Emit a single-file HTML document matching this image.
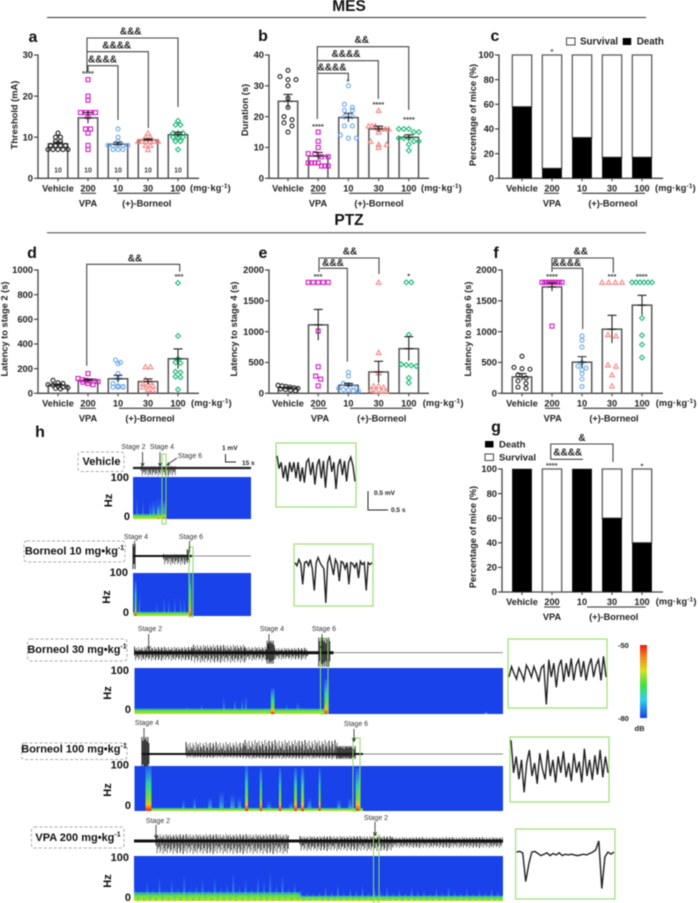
<!DOCTYPE html>
<html lang="en">
<head>
<meta charset="utf-8">
<title>MES and PTZ seizure figure</title>
<style>
html,body{margin:0;padding:0;background:#fff;width:698px;height:903px;overflow:hidden}
svg{display:block;filter:blur(0.4px)}
text{font-family:"Liberation Sans",Arial,sans-serif;fill:#222}
.b{font-weight:bold}
.ann{font-weight:bold;font-size:10px;text-anchor:middle;dominant-baseline:central}
.star{font-weight:bold;font-size:7.5px;text-anchor:middle;fill:#444}
.letter{font-weight:bold;font-size:16px;text-anchor:middle;fill:#111}
.brk{fill:none;stroke:#444;stroke-width:1.1}
.ul{stroke:#555;stroke-width:1.3}
.stage{font-size:7px;text-anchor:middle;fill:#333}
.arrow{stroke:#222;stroke-width:.8;fill:none}
.dash{fill:#fff;stroke:#aaa;stroke-width:1;stroke-dasharray:3 2}
.cond{font-weight:bold;font-size:11px;text-anchor:middle;dominant-baseline:central;fill:#111}
.hz{font-weight:bold;font-size:11px;text-anchor:end;dominant-baseline:central;fill:#111}
.hzt{font-weight:bold;font-size:11px;text-anchor:middle;fill:#111}
.scale{font-weight:bold;font-size:6.5px;fill:#222}
</style>
</head>
<body>
<svg id="fig" xmlns="http://www.w3.org/2000/svg" width="698" height="903" viewBox="0 0 698 903">
<defs>
<linearGradient id="hot" x1="0" y1="1" x2="0" y2="0">
<stop offset="0" stop-color="#f02010"/><stop offset=".14" stop-color="#f0c020"/><stop offset=".3" stop-color="#70e030"/><stop offset=".6" stop-color="#30d0a0"/><stop offset="1" stop-color="#40b0f0" stop-opacity=".25"/>
</linearGradient>
<linearGradient id="cool" x1="0" y1="1" x2="0" y2="0">
<stop offset="0" stop-color="#50d090"/><stop offset=".3" stop-color="#40b8d0" stop-opacity=".7"/><stop offset="1" stop-color="#4080f0" stop-opacity=".1"/>
</linearGradient>
<linearGradient id="band" x1="0" y1="1" x2="0" y2="0">
<stop offset="0" stop-color="#c0e020"/><stop offset=".6" stop-color="#60e040"/><stop offset="1" stop-color="#30b8c0" stop-opacity=".6"/>
</linearGradient>
<linearGradient id="cbar" x1="0" y1="0" x2="0" y2="1">
<stop offset="0" stop-color="#f01810"/><stop offset=".15" stop-color="#f08020"/><stop offset=".35" stop-color="#d8e020"/><stop offset=".55" stop-color="#40e040"/><stop offset=".75" stop-color="#30d0f0"/><stop offset="1" stop-color="#1840e8"/>
</linearGradient>
</defs>

<g>
<text x="349" y="11" class="b" font-size="15.5" text-anchor="middle" style="fill:#111">MES</text>
<line x1="47" y1="17.5" x2="646" y2="17.5" stroke="#333" stroke-width="1"/>
<text x="349" y="225" class="b" font-size="15.5" text-anchor="middle" style="fill:#111">PTZ</text>
<line x1="47" y1="232.7" x2="646" y2="232.7" stroke="#444" stroke-width="1"/>
</g>

<g>
<text class="letter" x="33" y="42">a</text>
<text class="letter" x="263" y="41">b</text>
<text class="letter" x="495" y="41">c</text>
<text class="letter" x="32" y="258">d</text>
<text class="letter" x="263" y="258">e</text>
<text class="letter" x="496" y="258">f</text>
<text class="letter" x="496" y="432">g</text>
<text class="letter" x="40" y="437">h</text>
</g>

<g id="charts"></g>

<g>
<path class="brk" d="M87 72V38H178V107"/>
<path class="brk" d="M87 51.7H148.3V128"/>
<path class="brk" d="M88 71.7V65.7H118V120"/>
<text class="ann" x="130.7" y="32">&amp;&amp;&amp;</text>
<text class="ann" x="116.7" y="46">&amp;&amp;&amp;&amp;</text>
<text class="ann" x="102.5" y="60">&amp;&amp;&amp;&amp;</text>
<text class="star" x="88" y="76">****</text>

<path class="brk" d="M317.3 119V46.7H408.7V110"/>
<path class="brk" d="M317.3 60.7H378.3V99"/>
<path class="brk" d="M318 73.3H348.3V80"/>
<text class="ann" x="361.7" y="40.7">&amp;&amp;</text>
<text class="ann" x="346" y="54.7">&amp;&amp;&amp;&amp;</text>
<text class="ann" x="332" y="68">&amp;&amp;&amp;&amp;</text>
<text class="star" x="318" y="129">****</text>
<text class="star" x="348" y="84">*</text>
<text class="star" x="378.3" y="107">****</text>
<text class="star" x="409" y="122">****</text>
<text class="star" x="552" y="54">*</text>

<path class="brk" d="M86.7 365.7V264.3H179.7V271.7"/>
<text class="ann" x="135" y="259">&amp;&amp;</text>
<text class="star" x="179" y="279">***</text>

<path class="brk" d="M319 272V258H379V274"/>
<path class="brk" d="M320 268.3H347.3V361.7"/>
<text class="ann" x="350" y="252">&amp;&amp;</text>
<text class="ann" x="333" y="263.5">&amp;&amp;&amp;</text>
<text class="star" x="318" y="279">***</text>
<text class="star" x="408.7" y="278.5">*</text>

<path class="brk" d="M552 272V258H613.3V272.7"/>
<path class="brk" d="M552.7 268.3H582.7V329"/>
<text class="ann" x="580.7" y="252">&amp;&amp;</text>
<text class="ann" x="566.7" y="263.7">&amp;&amp;&amp;&amp;</text>
<text class="star" x="552" y="279">****</text>
<text class="star" x="612" y="279">***</text>
<text class="star" x="641.7" y="279">****</text>

<path class="brk" d="M550.7 459.3V444H613V462"/>
<path class="brk" d="M550.7 459.3H583"/>
<text class="ann" x="582" y="438.5">&amp;</text>
<text class="ann" x="567.7" y="453">&amp;&amp;&amp;&amp;</text>
<text class="star" x="551.7" y="468">****</text>
<text class="star" x="642" y="468.5">*</text>
</g>

<g>
<rect x="566.5" y="38" width="8.5" height="7" fill="#fff" stroke="#444" stroke-width="1"/>
<text x="580" y="44.7" class="b" font-size="9.8">Survival</text>
<rect x="622.7" y="38" width="8.5" height="7" fill="#000"/>
<text x="636.7" y="44.7" class="b" font-size="9.8">Death</text>
</g>
<g>
<rect x="485" y="441" width="8.5" height="6.5" fill="#000"/>
<text x="499" y="447.5" class="b" font-size="9.5">Death</text>
<rect x="485" y="454" width="8.5" height="6.5" fill="#fff" stroke="#444" stroke-width="1"/>
<text x="499" y="460.5" class="b" font-size="9.5">Survival</text>
</g>

<g>
<rect class="dash" x="78" y="452" width="46" height="19.5" rx="3"/>
<text class="cond" x="101.5" y="462">Vehicle</text>
<rect class="dash" x="24" y="541" width="101" height="21" rx="3"/>
<text class="cond" x="74.5" y="551.5">Borneol 10 mg•kg<tspan font-size="7" dy="-3.5">-1</tspan></text>
<rect class="dash" x="27.6" y="639" width="99.4" height="22" rx="3"/>
<text class="cond" x="77" y="650">Borneol 30 mg•kg<tspan font-size="7" dy="-3.5">-1</tspan></text>
<rect class="dash" x="21.5" y="743" width="105.5" height="16.5" rx="3"/>
<text class="cond" x="74" y="749.5">Borneol 100 mg•kg<tspan font-size="7" dy="-3.5">-1</tspan></text>
<rect class="dash" x="31.5" y="827" width="92.5" height="21" rx="3"/>
<text class="cond" x="78" y="838">VPA 200 mg•kg<tspan font-size="7" dy="-3.5">-1</tspan></text>
</g>

<g id="eeg"></g>

<g>
<text class="stage" x="133.5" y="449">Stage 2</text>
<text class="stage" x="162" y="449">Stage 4</text>
<text class="stage" x="190" y="458">Stage 6</text>
<path class="arrow" d="M142.6 452V465M141 463L142.6 466L144.2 463M160 452V465M158.4 463L160 466L161.6 463M177 458L167.5 464.5M170 464.8L167 465L168.6 462.4"/>
<path fill="none" stroke="#222" stroke-width="1" d="M225.5 454V462H236"/>
<text class="scale" font-size="7" x="222" y="450">1 mV</text>
<text class="scale" x="242" y="465">15 s</text>
<path fill="none" stroke="#222" stroke-width="1" d="M368 491V510H388"/>
<text class="scale" x="374" y="495">0.5 mV</text>
<text class="scale" x="391" y="512">0.5 s</text>

<text class="stage" x="136" y="539">Stage 4</text>
<text class="stage" x="191" y="539">Stage 6</text>
<path class="arrow" d="M134.5 541V552M189.5 541V552"/>

<text class="stage" x="150" y="631">Stage 2</text>
<text class="stage" x="272" y="631">Stage 4</text>
<text class="stage" x="324" y="631">Stage 6</text>
<path class="arrow" d="M148.7 634V649M147 646L148.7 649.5L150.4 646M269 634V649M267.3 646L269 649.5L270.7 646M322 634V649M320.3 646L322 649.5L323.7 646"/>

<text class="stage" x="147" y="725">Stage 4</text>
<text class="stage" x="356" y="726">Stage 6</text>
<path class="arrow" d="M144 728V740M354 729V741M352.3 738L354 741.5L355.7 738"/>

<text class="stage" x="158" y="823">Stage 2</text>
<text class="stage" x="376" y="820">Stage 2</text>
<path class="arrow" d="M156 825V838M154.3 835L156 838.5L157.7 835M375 822V835M373.3 832L375 835.5L376.7 832"/>

<text class="hz" x="129" y="478">100</text>
<text class="hz" x="130" y="517">0</text>
<text class="hzt" transform="translate(112,500.5) rotate(-90)">Hz</text>
<text class="hz" x="128" y="573">100</text>
<text class="hz" x="129" y="613">0</text>
<text class="hzt" transform="translate(110,597) rotate(-90)">Hz</text>
<text class="hz" x="129" y="671">100</text>
<text class="hz" x="131" y="710">0</text>
<text class="hzt" transform="translate(111,693) rotate(-90)">Hz</text>
<text class="hz" x="129" y="765.5">100</text>
<text class="hz" x="131" y="806">0</text>
<text class="hzt" transform="translate(111,790) rotate(-90)">Hz</text>
<text class="hz" x="129" y="858">100</text>
<text class="hz" x="131" y="898">0</text>
<text class="hzt" transform="translate(111,881) rotate(-90)">Hz</text>

<rect x="640" y="645" width="7" height="73" fill="url(#cbar)"/>
<text class="b" font-size="7.5" x="618" y="648">-50</text>
<text class="b" font-size="7.5" x="618" y="721">-80</text>
<text class="b" font-size="7.5" x="634.5" y="731">dB</text>
</g>

<script>
// ---- chart data ----
const categories = ['Vehicle','200','10','30','100'];
const panelALabel = 'Threshold (mA)';
const aTicks = [0,10,20,30];
const aMeans = [8.4,14.7,8.3,9.3,10.6];
const aSems = [0.4,1.3,0.5,0.3,0.6];
const aVehicle = [11,10,10,9,9,8,8,8,8,7,7,7,7,7];
const aVpa = [24,20,19,16,16,16,16,15,12,12,11,8,7];
const aB10 = [12,10,9,8,8,8,8,8,7,7,7];
const aB30 = [11,10,10,9,9,9,9,9,9,8,8,7];
const aB100 = [14,13,13,11,11,11,10,10,10,9,9,7];

const bTicks = [0,10,20,30,40];
const bMeans = [25,7.2,19.7,16,13.3];
const bSems = [2.2,1.2,1.4,0.9,0.8];
const bVehicle = [35,33,32,32,30,26,23,20,19,18,17,15];
const bVpa = [15,12,10,8,8,7,7,5,5,5,5,4,4,4];
const bB10 = [30,24,23,22,22,20,20,17,17,14,13,13];
const bB30 = [22,17,17,17,16,16,16,16,15,12,11,11,10];
const bB100 = [16,16,16,15,15,13,13,13,12,12,11,9];

const pctTicks = [0,20,40,60,80,100];
const cDeath = [58,8,33,17,17];
const gDeath = [100,0,100,60,40];

const dTicks = [0,200,400,600,800,1000];
const dMeans = [65,105,118,95,280];
const dSems = [10,10,28,22,80];
const dVehicle = [105,85,80,70,65,60,50,45,40,35];
const dVpa = [160,120,110,105,100,100,95,90,80,70];
const dB10 = [270,250,240,160,120,80,60,55,50,50,50];
const dB30 = [215,215,110,90,80,70,60,50,30,25];
const dB100 = [895,465,280,250,245,175,170,135,130,30];

const eTicks = [0,500,1000,1500,2000];
const eMeans = [90,1110,130,346,724];
const eSems = [12,250,30,173,195];
const eVehicle = [130,120,110,100,90,80,70,60,50,40];
const eVpa = [1800,1800,1800,1800,1800,1010,430,280,230,120];
const eB10 = [340,280,160,140,110,80,60,50,40,40];
const eB30 = [1800,660,330,120,120,100,60,40,30,30];
const eB100 = [1800,1800,950,470,460,450,440,250,170];

const fTicks = [0,500,1000,1500,2000];
const fMeans = [265,1725,505,1040,1430];
const fSems = [55,65,90,225,160];
const fVehicle = [600,420,400,390,300,250,200,160,100,80];
const fVpa = [1800,1800,1800,1800,1800,1800,1800,1800,1800,1090];
const fB10 = [930,860,750,500,440,410,380,320,230,110];
const fB30 = [1800,1800,1800,1800,950,930,460,440,300,120];
const fB100 = [1800,1800,1800,1800,1800,1800,1220,940,790,580];

// ---- EEG envelope readings: [startFraction, endFraction, upAmplitude, downAmplitude] ----
const spikePattern = [1,.55,.8,.35,.95,.6,.45,.9,.7,.3];
const vehicleSpikes = [[.07,.36,2,8]];
const vehicleCore = [[0,1,2.2,'#222']];
const b10Spikes = [[0,.025,12,13],[.26,.46,2,9],[.46,.48,7,7]];
const b10Core = [[0,.5,2,'#111'],[.5,1,.9,'#888']];
const b30Spikes = [[0,.16,6,8],[.16,.3,8,10],[.3,.36,6,8],[.36,.38,12,11],[.38,.47,5,7],[.5,.53,15,14]];
const b30Core = [[0,.54,3,'#111'],[.54,1,.9,'#777']];
const b100Spikes = [[.02,.04,17,17],[.14,.3,12,4],[.3,.55,14,5],[.55,.6,8,5]];
const b100Core = [[.02,.62,2,'#111'],[.62,1,.9,'#888']];
const vpaSpikes = [[.06,.42,7,13],[.45,.7,5,10],[.7,1,4,7]];
const vpaCore = [[0,1,3,'#111']];

// ---- spectrogram readings: [xFraction, heightFraction, widthFraction] ----
const vehicleBurstsHot = [[.21,.32,.01],[.255,.42,.012]];
const vehicleBurstsCool = [[.03,.5,.008],[.08,.45,.008],[.14,.4,.012],[.16,.42,.03],[.2,.5,.012],[.22,.48,.02],[.27,.5,.01]];
const vehicleBand = [[0,.28,.12]];
const b10BurstsHot = [[.015,.8,.015],[.48,1,.015]];
const b10BurstsCool = [[.05,.5,.01],[.2,.3,.006],[.26,.42,.006],[.3,.38,.006],[.35,.42,.006],[.4,.42,.006],[.43,.4,.006]];
const b10Band = [[0,.5,.1]];
const b30BurstsHot = [[.37,.55,.01],[.515,.75,.012]];
const b30BurstsCool = [[.03,.12,.01],[.14,.16,.005],[.18,.2,.005],[.24,.35,.005],[.27,.3,.005],[.29,.32,.005],[.3,.4,.005],[.44,.25,.006],[.41,.2,.006],[.95,.05,.008]];
const b30Band = [[0,.52,.12]];
const b100BurstsHot = [[.03,1,.016],[.3,1,.008],[.34,.95,.006],[.392,.95,.006],[.433,.95,.008],[.452,.95,.008],[.5,.95,.005],[.6,.95,.012]];
const b100BurstsCool = [[.13,.25,.006],[.16,.3,.006],[.2,.3,.01],[.23,.42,.012],[.26,.35,.012],[.28,.3,.01],[.36,.22,.01],[.42,.2,.01],[.47,.28,.01],[.55,.25,.01],[.58,.28,.01]];
const b100Band = [[.03,.62,.07]];
const vpaHeights = [.3,.22,.4,.28,.5,.25,.42,.3,.55,.28,.35,.45,.26,.48,.3,.38,.6,.32,.45,.28,.5,.42,.6,.35,.55,.3,.4,.25,.2,.18,.2,.3,.22,.35,.2,.28,.24,.32,.2,.28,.22,.3,.2,.26,.18,.3,.22,.24,.18,.28,.2,.3,.22,.2,.26,.18,.24,.2,.28,.22];
const vpaBand = [[0,.45,.2],[.45,1,.12]];

// ---- inset trace readings: vertical fraction of the inset box ----
const insetVehicle = [.2,.4,.3,.55,.35,.6,.3,.45,.3,.55,.3,.6,.38,.62,.3,.25,.5,.3,.65,.35,.25,.55,.28,.7,.3,.2,.45,.3,.72,.35,.25,.5,.28,.6,.3,.22,.35,.6];
const insetB10 = [.3,.35,.25,.32,.65,.3,.28,.35,.25,.4,.75,.3,.22,.3,.35,.4,.95,.3,.2,.35,.5,.25,.32,.6,.28,.3,.4,.3,.65,.3,.32,.38,.3,.55,.28,.33,.3,.75,.3,.33,.3];
const insetB30 = [.55,.4,.5,.58,.42,.5,.6,.38,.45,.55,.4,.5,.62,.42,.38,.95,.3,.55,.35,.7,.4,.3,.62,.35,.55,.28,.6,.38,.3,.55,.32,.6,.4,.28,.55,.38,.3,.6,.25,.55];
const insetB100 = [.05,.55,.3,.65,.35,.85,.4,.2,.6,.4,.72,.25,.5,.65,.2,.6,.35,.7,.3,.55,.22,.62,.4,.68,.25,.55,.38,.7,.18,.6,.35,.66,.28,.58,.2,.62,.3,.55];
const insetVpa = [.33,.32,.34,.75,.5,.33,.32,.35,.38,.36,.34,.38,.35,.37,.34,.38,.36,.37,.36,.37,.38,.37,.36,.37,.35,.33,.3,.17,.85,.4,.33,.36,.33];

// ---- helpers ----
const NS = 'http://www.w3.org/2000/svg';
const charts = document.getElementById('charts');
const eeg = document.getElementById('eeg');
function make(tag, parent, attrs, text){
  const el = document.createElementNS(NS, tag);
  for(const k in attrs){ el.setAttribute(k, attrs[k]); }
  if(text !== undefined){ el.textContent = text; }
  parent.appendChild(el);
  return el;
}
const seriesColor = ['#222','#d41cc4','#6aa8f0','#f48888','#1cb878'];

function drawMarker(parent, kind, cx, cy){
  const c = seriesColor[kind];
  const st = {fill:'none', stroke:c, 'stroke-width':1.1};
  let el;
  if(kind === 0 || kind === 2){
    el = make('circle', parent, Object.assign({cx:cx, cy:cy, r:2}, st));
  } else if(kind === 1){
    el = make('rect', parent, Object.assign({x:cx-2, y:cy-2, width:4, height:4}, st));
  } else if(kind === 3){
    el = make('polygon', parent, Object.assign({points:(cx-2.4)+','+(cy+2)+' '+(cx+2.4)+','+(cy+2)+' '+cx+','+(cy-2.3)}, st));
  } else {
    el = make('polygon', parent, Object.assign({points:(cx-2.4)+','+cy+' '+cx+','+(cy-2.4)+' '+(cx+2.4)+','+cy+' '+cx+','+(cy+2.4)}, st));
  }
  
  
}

function drawAxes(g, p, ticks, title){
  const y = v => p.y0 - (v/p.max)*(p.y0-p.yTop);
  const x = i => p.first + i*p.step;
  ticks.forEach(t => {
    const tk = make('line', g, {x1:p.axis-4, x2:p.axis, y1:y(t), y2:y(t), stroke:'#444', 'stroke-width':1.2});
    
    
    const lb = make('text', g, {x:p.axis-5, y:y(t)+3.2, 'text-anchor':'end', 'font-size':9.4, 'font-weight':'bold'}, String(t));
    
    
  });
  const yAxis = make('line', g, {x1:p.axis, x2:p.axis, y1:y(ticks[ticks.length-1])-.6, y2:p.y0+.6, stroke:'#444', 'stroke-width':1.3});
  
  
  const xAxis = make('line', g, {x1:p.axis, x2:p.end, y1:p.y0, y2:p.y0, stroke:'#444', 'stroke-width':1.3});
  
  
  categories.forEach((c,i) => {
    const tk = make('line', g, {x1:x(i), x2:x(i), y1:p.y0, y2:p.y0+3, stroke:'#444', 'stroke-width':1.1});
    
    
    const lb = make('text', g, {x:x(i), y:p.y0+13.2, 'text-anchor':'middle', 'font-size':9.2, 'font-weight':'bold'}, c);
    
    
  });
  const yt = make('text', g, {transform:'translate('+p.titleX+','+p.titleY+') rotate(-90)', 'text-anchor':'middle', 'font-size':9.3, 'font-weight':'bold', 'dominant-baseline':'central'}, title);
  
  
  const unit = make('text', g, {x:p.unitX, y:p.y0+12.5, 'font-size':9.2, 'font-weight':'bold', 'letter-spacing':'.15'});
  
  
  unit.appendChild(document.createTextNode('(mg·kg'));
  make('tspan', unit, {dy:-3, 'font-size':6.5}, '-1');
  make('tspan', unit, {dy:3}, ')');
  const vpa = make('text', g, {x:p.vpaX, y:p.y0+28, 'text-anchor':'middle', 'font-size':9.2, 'font-weight':'bold'}, 'VPA');
  
  
  const bor = make('text', g, {x:p.borX, y:p.y0+28, 'text-anchor':'middle', 'font-size':9.2, 'font-weight':'bold'}, '(+)-Borneol');
  
  
  const u1 = make('line', g, {x1:p.ul[0], x2:p.ul[1], y1:p.y0+15, y2:p.y0+15, class:'ul'});
  
  
  const u2 = make('line', g, {x1:p.ul[2], x2:p.ul[3], y1:p.y0+15, y2:p.y0+15, class:'ul'});
  
  
  return {x:x, y:y};
}

function drawBarPanel(name, p, ticks, title, means, sems, series, spread, showN){
  const g = make('g', charts, {});
  
  
  const s = drawAxes(g, p, ticks, title);
  means.forEach((m,i) => {
    const bar = make('rect', g, {x:s.x(i)-9.7, y:s.y(m), width:19.4, height:p.y0-s.y(m), fill:'#fff', stroke:'#555', 'stroke-width':1.5});
    
    
  });
  series.forEach((vals,i) => {
    const px = vals.map(v => s.y(v));
    const groups = [];
    px.forEach(py => {
      const last = groups[groups.length-1];
      if(last && Math.abs(last[0]-py) < 3.2){ last.push(py); } else { groups.push([py]); }
    });
    groups.forEach(gr => {
      const sp = gr.length > 1 ? Math.min(spread, 20/(gr.length-1)) : 0;
      gr.forEach((py,k) => drawMarker(g, i, s.x(i) + (k-(gr.length-1)/2)*sp, py));
    });
  });
  means.forEach((m,i) => {
    const e = make('path', g, {d:'M'+s.x(i)+' '+s.y(m-sems[i])+'V'+s.y(m+sems[i])+'M'+(s.x(i)-4.5)+' '+s.y(m+sems[i])+'H'+(s.x(i)+4.5)+'M'+(s.x(i)-4.5)+' '+s.y(m)+'H'+(s.x(i)+4.5), stroke:'#222', 'stroke-width':1.1, fill:'none'});
    
    
    if(showN){
      const n = make('text', g, {x:s.x(i), y:p.y0-6, 'text-anchor':'middle', 'font-size':7, 'font-weight':'bold', style:'fill:#444'}, String(series[i].length >= 10 ? 10 : series[i].length));
      
      
    }
  });
}

function drawStackPanel(name, p, ticks, title, death){
  const g = make('g', charts, {});
  
  
  const s = drawAxes(g, p, ticks, title);
  death.forEach((d,i) => {
    const top = make('rect', g, {x:s.x(i)-9.7, y:s.y(100), width:19.4, height:s.y(d)-s.y(100), fill:'#fff', stroke:'#666', 'stroke-width':1.4});
    
    
    const bot = make('rect', g, {x:s.x(i)-9.7, y:s.y(d), width:19.4, height:p.y0-s.y(d), fill:'#000', stroke:'#333', 'stroke-width':.6});
    
    
  });
}

drawBarPanel('threshold-chart', {axis:38,end:199,first:58,step:30,y0:178.3,yTop:55,max:30,titleX:14.5,titleY:115,unitX:190,vpaX:88,borX:146.7,ul:[81,96,117,180]}, aTicks, panelALabel, aMeans, aSems, [aVehicle,aVpa,aB10,aB30,aB100], 5, true);
drawBarPanel('duration-chart', {axis:269,end:429,first:288,step:30.2,y0:178.3,yTop:55,max:40,titleX:245,titleY:110,unitX:421,vpaX:318,borX:379,ul:[311,326,349,411]}, bTicks, 'Duration (s)', bMeans, bSems, [bVehicle,bVpa,bB10,bB30,bB100], 8, false);
drawStackPanel('mes-mortality-chart', {axis:499,end:663,first:522,step:30,y0:178.3,yTop:55,max:100,titleX:473,titleY:115,unitX:655,vpaX:552,borX:613,ul:[544,559,582,645]}, pctTicks, 'Percentage of mice (%)', cDeath);
drawBarPanel('latency-stage-2-chart', {axis:38,end:199,first:58,step:30,y0:393.3,yTop:270,max:1000,titleX:4.5,titleY:329,unitX:191,vpaX:88,borX:150,ul:[80,96,119,181]}, dTicks, 'Latency to stage 2 (s)', dMeans, dSems, [dVehicle,dVpa,dB10,dB30,dB100], 5, false);
drawBarPanel('latency-stage-4-chart', {axis:269,end:429,first:288,step:30.2,y0:393.3,yTop:270,max:2000,titleX:234,titleY:329,unitX:422.7,vpaX:320,borX:381.7,ul:[312.6,327,350,412]}, eTicks, 'Latency to stage 4 (s)', eMeans, eSems, [eVehicle,eVpa,eB10,eB30,eB100], 5, false);
drawBarPanel('latency-stage-6-chart', {axis:502,end:663,first:522,step:30,y0:393.3,yTop:270,max:2000,titleX:468,titleY:329,unitX:655.7,vpaX:552.7,borX:614,ul:[545,560,583,645.7]}, fTicks, 'Latency to stage 6 (s)', fMeans, fSems, [fVehicle,fVpa,fB10,fB30,fB100], 8, false);
drawStackPanel('ptz-mortality-chart', {axis:502,end:663,first:522,step:30,y0:592,yTop:469,max:100,titleX:473,titleY:537,unitX:655.7,vpaX:552,borX:613.7,ul:[544,560,587,645.7]}, pctTicks, 'Percentage of mice (%)', gDeath);

// ---- EEG drawing ----
function drawTrace(name, xa, xb, cy, spikes, core){
  const g = make('g', eeg, {});
  
  
  const w = xb-xa;
  spikes.forEach(seg => {
    const burst = (seg[1]-seg[0]) < .06;
    let k = 0;
    for(let px = xa+seg[0]*w; px <= xa+seg[1]*w; px += 1){
      const amp = burst ? 1-.4*spikePattern[k % spikePattern.length]*(k%2) : spikePattern[k % spikePattern.length];
      const amp2 = burst ? 1-.4*spikePattern[(k+3) % spikePattern.length]*(k%2) : spikePattern[(k+3) % spikePattern.length];
      const ln = make('line', g, {x1:px, x2:px, y1:cy-seg[2]*amp, y2:cy+seg[3]*amp2, stroke:(burst||k%3===0?'#1a1a1a':'#6a6a6a'), 'stroke-width':.9});
      
      
      k++;
    }
  });
  core.forEach(seg => {
    const ln = make('line', g, {x1:xa+seg[0]*w, x2:xa+seg[1]*w, y1:cy, y2:cy, stroke:seg[3], 'stroke-width':seg[2]});
    
    
  });
}

function drawSpectro(name, xa, xb, ya, yb, band, cool, hot){
  const g = make('g', eeg, {});
  
  
  const w = xb-xa, h = yb-ya;
  const bg = make('rect', g, {x:xa, y:ya, width:w, height:h, fill:'#1a42ea'});
  
  
  cool.forEach(b => {
    const r = make('rect', g, {x:xa+b[0]*w, y:yb-b[1]*h, width:Math.max(1,b[2]*w), height:b[1]*h, fill:'url(#cool)'});
    
    
  });
  band.forEach(b => {
    const r = make('rect', g, {x:xa+b[0]*w, y:yb-b[2]*h, width:(b[1]-b[0])*w, height:b[2]*h, fill:'url(#band)'});
    
    
  });
  hot.forEach(b => {
    const r = make('rect', g, {x:xa+b[0]*w, y:yb-b[1]*h, width:Math.max(1,b[2]*w), height:b[1]*h, fill:'url(#hot)'});
    
    
  });
}

function drawInset(name, x, y, w, h, vals){
  const g = make('g', eeg, {});
  
  
  const f = make('rect', g, {x:x, y:y, width:w, height:h, fill:'#fff', stroke:'#a4e27c', 'stroke-width':1.3});
  
  
  const pts = vals.map((v,i) => (x+1+i*(w-2)/(vals.length-1)).toFixed(1)+','+(y+v*h).toFixed(1)).join(' ');
  const l = make('polyline', g, {points:pts, fill:'none', stroke:'#222', 'stroke-width':1.4});
  
  
}

function drawHighlight(x, w, ya, yb){
  const r = make('rect', eeg, {x:x, y:ya, width:w, height:yb-ya, fill:'none', stroke:'#8adc60', 'stroke-width':1});
  
  
}

drawTrace('vehicle-eeg-trace',133,251,468,vehicleSpikes,vehicleCore);
drawSpectro('vehicle-spectrogram',133,251,477,519,vehicleBand,vehicleBurstsCool,vehicleBurstsHot);
drawHighlight(162,4,454,524);
drawInset('vehicle-inset',276,443,80,64,insetVehicle);

drawTrace('borneol-10-eeg-trace',133,251,556,b10Spikes,b10Core);
drawSpectro('borneol-10-spectrogram',133,251,573,616,b10Band,b10BurstsCool,b10BurstsHot);
drawHighlight(189,4,547,617);
drawInset('borneol-10-inset',294,544,79,62,insetB10);

drawTrace('borneol-30-eeg-trace',134.5,503,652.7,b30Spikes,b30Core);
drawSpectro('borneol-30-spectrogram',134.5,503,668,714,b30Band,b30BurstsCool,b30BurstsHot);
drawHighlight(320.5,7.5,639,714);
drawInset('borneol-30-inset',508,639,99,69,insetB30);

drawTrace('borneol-100-eeg-trace',134.5,503,754,b100Spikes,b100Core);
drawSpectro('borneol-100-spectrogram',134.5,503,766,811,b100Band,b100BurstsCool,b100BurstsHot);
drawHighlight(353,7,738,811);
drawInset('borneol-100-inset',510,737,99,65,insetB100);

drawTrace('vpa-200-eeg-trace',134,503,841,vpaSpikes,vpaCore);
const vpaCool = vpaHeights.map((h,i) => [i/vpaHeights.length, h, .005]);
const vpaHot = vpaHeights.map((h,i) => [(i+.5)/vpaHeights.length, h*.3, .004]);
drawSpectro('vpa-200-spectrogram',134,503,856,901,vpaBand,vpaCool,vpaHot);
drawHighlight(373.5,5.5,835,903);
drawInset('vpa-200-inset',515.6,829,99.4,70,insetVpa);
</script>
</svg>
</body>
</html>
